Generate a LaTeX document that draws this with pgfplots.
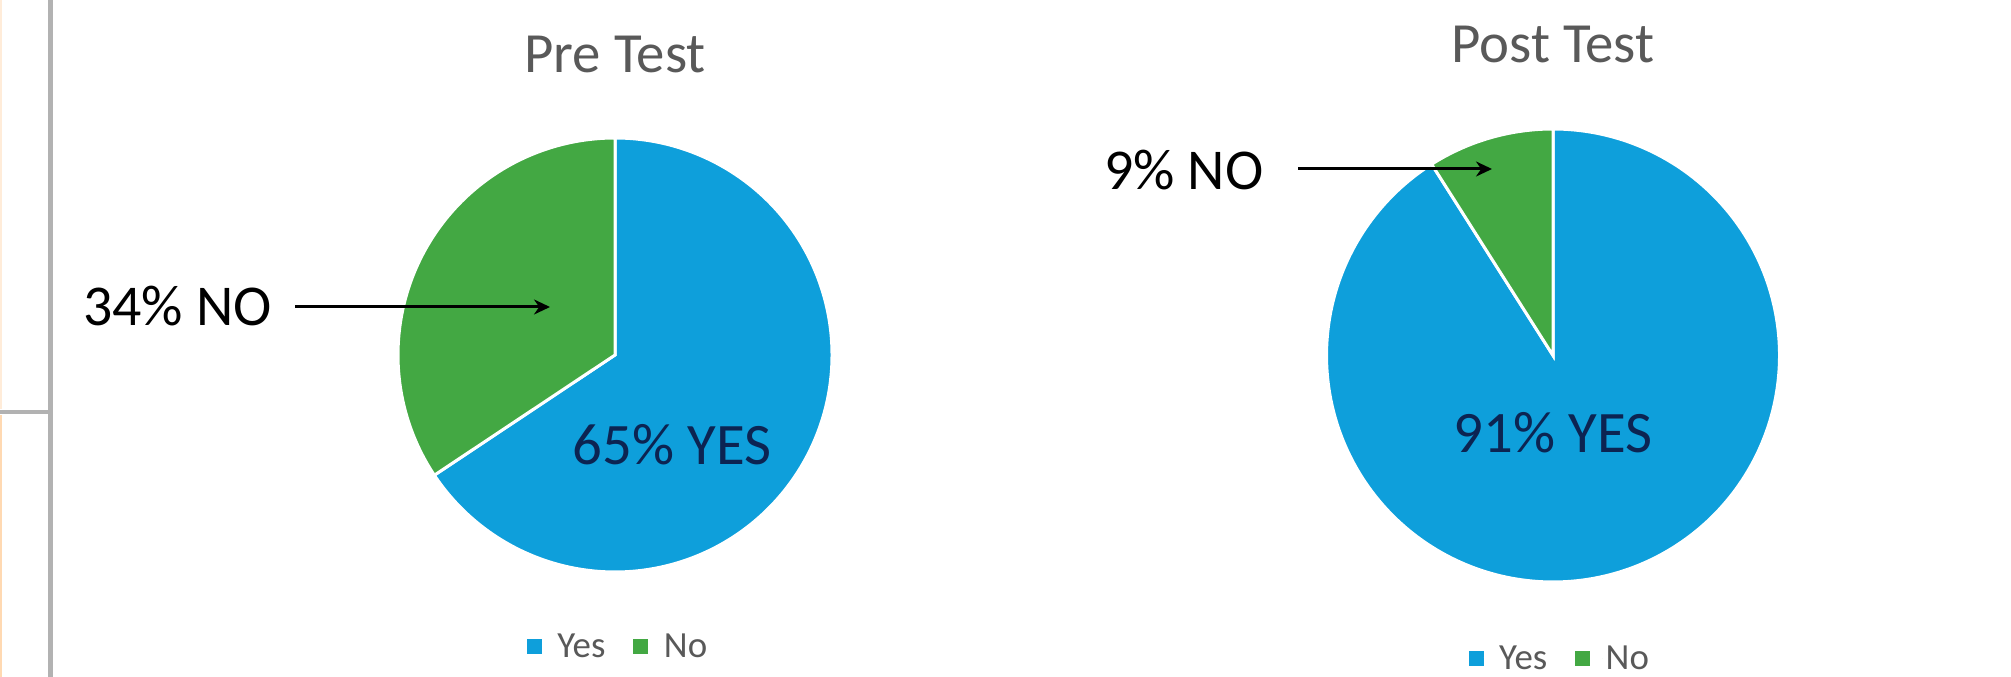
\documentclass[border=0pt]{standalone}
\usepackage{pgfplots}
\usepackage{pgfplotstable}
\pgfplotsset{compat=1.18}
\usetikzlibrary{arrows.meta}
\usepackage{fontspec}
\setmainfont{Carlito}

\definecolor{pieblue}{RGB}{14,159,219}
\definecolor{piegreen}{RGB}{67,168,67}
\definecolor{titlegray}{RGB}{89,89,89}
\definecolor{darktext}{RGB}{12,36,82}
\definecolor{framegray}{RGB}{178,178,178}

\pgfplotstableread{
label value
Yes 65
No 34
}\pretable
\pgfplotstableread{
label value
Yes 91
No 9
}\posttable

\pgfplotstablegetelem{0}{value}\of\pretable \let\preyes\pgfplotsretval
\pgfplotstablegetelem{1}{value}\of\pretable \let\preno\pgfplotsretval
\pgfplotstablegetelem{0}{value}\of\posttable \let\postyes\pgfplotsretval
\pgfplotstablegetelem{1}{value}\of\posttable \let\postno\pgfplotsretval
\pgfmathsetmacro\preYesStart{90-\preyes/(\preyes+\preno)*360}
\pgfmathsetmacro\preNoEnd{90+\preno/(\preyes+\preno)*360}
\pgfmathsetmacro\postYesStart{90-\postyes/(\postyes+\postno)*360}
\pgfmathsetmacro\postNoEnd{90+\postno/(\postyes+\postno)*360}

\pgfplotsset{
  pieaxis/.style={
    scale only axis, hide axis, clip=false,
    xmin=-1, xmax=1, ymin=-1, ymax=1,
    legend columns=-1,
    legend image code/.code={\fill[##1,draw=none] (0bp,-7.5bp) rectangle (15bp,7.5bp); \path (15bp,0bp) -- (27bp,0bp);},
    legend style={draw=none, fill=none, anchor=center,
      font=\fontsize{37}{38}\selectfont, text=titlegray,
      /tikz/every even column/.append style={column sep=26bp},
      inner sep=0pt},
  },
  slice/.style={draw=white, line width=3bp, samples=240, variable=\t},
}

\begin{document}
\begin{tikzpicture}[x=1bp,y=1bp]
\useasboundingbox (0,0) rectangle (2011,677);
% frame remnants at the left edge
\fill[white] (0,0) rectangle (2011,677);
\draw[framegray, line width=5bp] (50,0) -- (50,677);
\draw[framegray, line width=4bp] (0,265) -- (50,265);
\draw[orange!30, line width=2bp] (0.5,0) -- (0.5,262);
\draw[orange!15, line width=2bp] (0.5,268) -- (0.5,677);

% Pre Test pie
\begin{axis}[pieaxis, at={(615bp,322bp)}, anchor=center, width=434bp, height=434bp,
  legend style={at={(0.507,-0.171)}}]
\addplot[slice, fill=pieblue, domain=\preYesStart:90] ({cos(\t)},{sin(\t)}) -- (axis cs:0,0) -- cycle;
\addlegendentry{Yes}
\addplot[slice, fill=piegreen, domain=90:\preNoEnd] ({cos(\t)},{sin(\t)}) -- (axis cs:0,0) -- cycle;
\addlegendentry{No}
\end{axis}

% Post Test pie
\begin{axis}[pieaxis, at={(1553bp,321.5bp)}, anchor=center, width=453bp, height=453bp,
  legend style={at={(0.515,-0.168)}}]
\addplot[slice, fill=pieblue, domain=\postYesStart:90] ({cos(\t)},{sin(\t)}) -- (axis cs:0,0) -- cycle;
\addlegendentry{Yes}
\addplot[slice, fill=piegreen, domain=90:\postNoEnd] ({cos(\t)},{sin(\t)}) -- (axis cs:0,0) -- cycle;
\addlegendentry{No}
\end{axis}

% titles
\node[anchor=base, inner sep=0pt, text=titlegray, font=\fontsize{57}{60}\selectfont] at (615,604) {Pre Test};
\node[anchor=base, inner sep=0pt, text=titlegray, font=\fontsize{57}{60}\selectfont] at (1553,614) {Post Test};

% annotations
\node[anchor=base west, inner sep=0pt, font=\fontsize{58}{60}\selectfont] at (83,351) {34\% NO};
\draw[line width=3bp, -{Stealth[length=16bp,width=15bp]}] (295,370) -- (550,370);
\node[anchor=base, inner sep=0pt, text=darktext, font=\fontsize{59}{60}\selectfont] at (672,212) {65\% YES};

\node[anchor=base west, inner sep=0pt, font=\fontsize{58}{60}\selectfont] at (1104,487) {9\% NO};
\draw[line width=3bp, -{Stealth[length=16bp,width=15bp]}] (1298,508) -- (1492,508);
\node[anchor=base, inner sep=0pt, text=darktext, font=\fontsize{59}{60}\selectfont] at (1553,224) {91\% YES};
\end{tikzpicture}
\end{document}
